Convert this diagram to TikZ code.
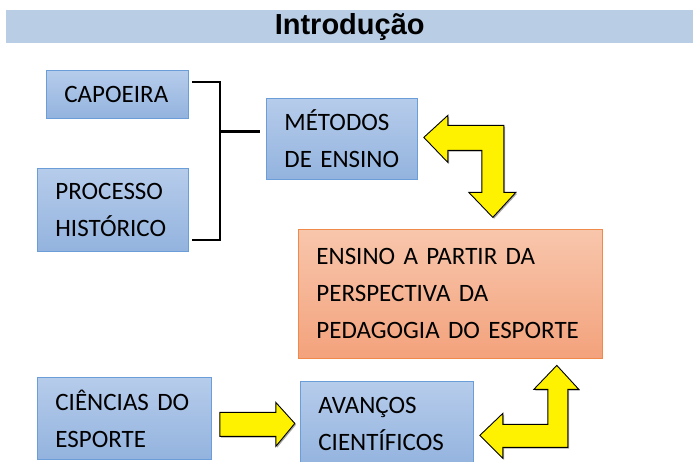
\documentclass[tikz,border=0pt]{standalone}
\usepackage{fontspec}
\setmainfont{Carlito}
\newfontfamily\titlefont{Liberation Sans}
\usetikzlibrary{calc,shadows}
\definecolor{barblue}{HTML}{B9CDE5}
\definecolor{boxtop}{HTML}{B6CCEB}
\definecolor{boxbot}{HTML}{93B3DE}
\definecolor{boxline}{HTML}{6B9DD9}
\definecolor{orgtop}{HTML}{F8C6AC}
\definecolor{orgbot}{HTML}{F3A27C}
\definecolor{orgline}{HTML}{EF8A4A}
\tikzset{
	titlebar/.style={fill=barblue, anchor=north west, inner sep=0pt, font=\titlefont\bfseries\fontsize{29}{34}\selectfont},
	bluebox/.style={draw=boxline, line width=0.8pt, top color=boxtop, bottom color=boxbot, anchor=north west, inner xsep=18pt, inner ysep=0pt, align=left, text=black, font=\fontsize{25}{37}\selectfont},
	orangebox/.style={bluebox, draw=orgline, top color=orgtop, bottom color=orgbot},
	bracket/.style={line width=2.4pt, line cap=butt},
	yarrow/.style={fill=yellow, draw=black, line width=0.9pt, line join=miter, drop shadow={shadow xshift=1.3pt, shadow yshift=-1.3pt, opacity=0.35, fill=black}}
}

\begin{document}
\begin{tikzpicture}[x=1pt, y=-1pt]
		%%%%% START %%%%%
		\useasboundingbox (0, 0) rectangle (693, 461);
		
		\node[titlebar, minimum width=687, minimum height=33] (titulo) at (6, 10) {Introdução};
		
		\node[bluebox, text width=106, minimum height=48] (capoeira) at (46, 70) {CAPOEIRA};
		\node[bluebox, text width=115, minimum height=83] (processo) at (37, 168) {PROCESSO\\HISTÓRICO};
		\node[bluebox, text width=115, minimum height=81] (metodos) at (266, 98) {MÉTODOS\\DE ENSINO};
		\node[orangebox, text width=268, minimum height=129] (ensino) at (298, 229) {ENSINO A PARTIR DA\\PERSPECTIVA DA\\PEDAGOGIA DO ESPORTE};
		\node[bluebox, text width=138, minimum height=82] (ciencias) at (37, 377) {CIÊNCIAS DO\\ESPORTE};
		\node[bluebox, text width=137, minimum height=85] (avancos) at (300, 381) {AVANÇOS\\CIENTÍFICOS};
		
		% bracket
		\coordinate (cTop) at ($(capoeira.north east)+(3, 12)$);
		\coordinate (cBot) at ($(processo.south east)+(3, -12)$);
		\coordinate (cMid) at ($(metodos.west)+(-6, -7.5)$);
		\coordinate (cJoin) at ($(cTop)+(28, 0)$);
		\draw[bracket] (cTop) -- (cJoin) |- (cBot);
		\draw[bracket] (cJoin |- cMid) -- (cMid);
		
		% yellow arrows
		\coordinate (aTop) at ($(metodos.east)+(6, -1.5)$);
		\draw[yarrow] (aTop) -- ++(24, -22) -- ++(0, 10) -- ++(56, 0) -- ++(0, 67) -- ++(12, 0) -- ++(-23, 25) -- ++(-24, -25) -- ++(13, 0) -- ++(0, -42) -- ++(-34, 0) -- ++(0, 12) -- cycle;
		
		\coordinate (aMid) at ($(ciencias.east)+(8, -6)$);
		\draw[yarrow] (aMid) -- ++(56, 0) -- ++(0, -10) -- ++(19, 21) -- ++(-19, 23) -- ++(0, -10) -- ++(-56, 0) -- cycle;
		
		\coordinate (aBot) at ($(avancos.east)+(6, 11.5)$);
		\draw[yarrow] (aBot) -- ++(23, -22) -- ++(0, 11) -- ++(45, 0) -- ++(0, -35) -- ++(-14, 0) -- ++(23, -24) -- ++(22, 24) -- ++(-11, 0) -- ++(0, 58) -- ++(-65, 0) -- ++(0, 11) -- cycle;
		
		%%%%% END %%%%%
	\end{tikzpicture}
\end{document}
